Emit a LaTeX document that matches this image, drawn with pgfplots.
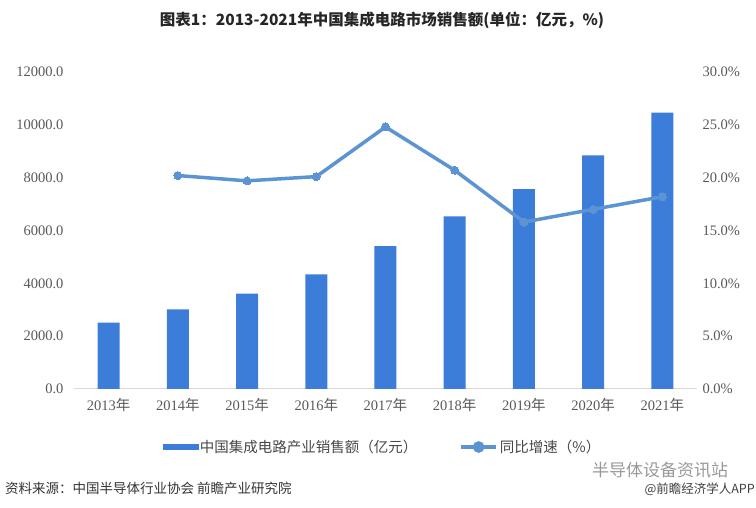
\documentclass[border=0pt]{standalone}
\usepackage{fontspec}
\setmainfont{Liberation Serif}
\newfontfamily\cjk{Noto Sans CJK SC}
\usepackage{pgfplots}
\pgfplotsset{compat=1.18}
\definecolor{barc}{HTML}{3C7DD9}
\definecolor{linec}{HTML}{5B93D3}
\definecolor{tickc}{HTML}{595959}
\definecolor{axc}{HTML}{D9D9D9}
\begin{document}
\begin{tikzpicture}[x=1pt,y=1pt]
\useasboundingbox (0,0) rectangle (756,508);
\begin{axis}[at={(74pt,119pt)}, anchor=south west, scale only axis,
  width=623pt, height=317pt,
  xmin=-0.5, xmax=8.5, ymin=0, ymax=12000,
  axis line style={draw=none}, major tick length=0pt,
  ybar, bar width=22pt,
  scaled y ticks=false,
  xtick={0,...,8},
  xticklabels={2013{\cjk 年},2014{\cjk 年},2015{\cjk 年},2016{\cjk 年},2017{\cjk 年},2018{\cjk 年},2019{\cjk 年},2020{\cjk 年},2021{\cjk 年}},
  ytick={0,2000,...,12000},
  ticklabel style={font=\fontsize{14.5}{16}\selectfont, text=tickc},
  yticklabel style={xshift=-7pt, /pgf/number format/fixed, /pgf/number format/fixed zerofill, /pgf/number format/precision=1, /pgf/number format/1000 sep={}, /pgf/number format/assume math mode=true},
  xticklabel style={yshift=-6pt},
  extra y ticks={0}, extra y tick labels={},
  extra y tick style={grid=major, major grid style={axc, line width=1pt}},
]
\addplot[fill=barc, draw=none] coordinates {(0,2508.5) (1,3015.4) (2,3609.8) (3,4335.5) (4,5411.3) (5,6532) (6,7562.3) (7,8848) (8,10458.3)};
\end{axis}
\begin{axis}[at={(74pt,119pt)}, anchor=south west, scale only axis,
  width=623pt, height=317pt,
  xmin=-0.5, xmax=8.5, ymin=0, ymax=30,
  axis line style={draw=none}, major tick length=0pt,
  xtick=\empty,
  yticklabel pos=right,
  ytick={0,5,...,30},
  yticklabel={\pgfmathprintnumber[fixed,fixed zerofill,precision=1,assume math mode=true]{\tick}\%},
  ticklabel style={font=\fontsize{14.5}{16}\selectfont, text=tickc},
  yticklabel style={xshift=2pt},
  legend style={at={(0.495,-0.183)}, anchor=center, legend columns=2, draw=none, fill=none,
    font=\cjk\fontsize{14.5}{16}\selectfont, text=tickc!80!black,
    /tikz/every even column/.append style={column sep=40pt}},
]
\addlegendimage{legend image code/.code={\fill[barc] (0pt,-2.5pt) rectangle (35pt,2.5pt);}}
\addlegendentry{中国集成电路产业销售额（亿元）}
\addplot[linec, line width=3.5pt, mark=*, mark size=4pt, mark options={fill=linec, draw=linec, line width=0pt},
  legend image code/.code={\draw[linec, line width=3.5pt] (0pt,0pt) -- (35pt,0pt); \fill[linec] (17.5pt,0pt) circle (4pt);}]
  coordinates {(1,20.2) (2,19.7) (3,20.1) (4,24.8) (5,20.7) (6,15.8) (7,17.0) (8,18.2)};
\addlegendentry{同比增速（\%）}
\end{axis}
\node[text=black!85] at (382,488) {\cjk\bfseries\fontsize{15.5}{18}\selectfont 图表1：2013-2021年中国集成电路市场销售额(单位：亿元，\%)};
\node[anchor=west, text=black!80, inner sep=0pt] at (5,20) {\cjk\fontsize{13.5}{15}\selectfont 资料来源：中国半导体行业协会 前瞻产业研究院};
\node[text=black!40, inner sep=0pt] at (660,38) {\cjk\fontsize{17}{19}\selectfont 半导体设备资讯站};
\node[anchor=east, text=black!75, inner sep=0pt] at (755,19) {\cjk\fontsize{12.5}{14}\selectfont @前瞻经济学人APP};
\end{tikzpicture}
\end{document}
